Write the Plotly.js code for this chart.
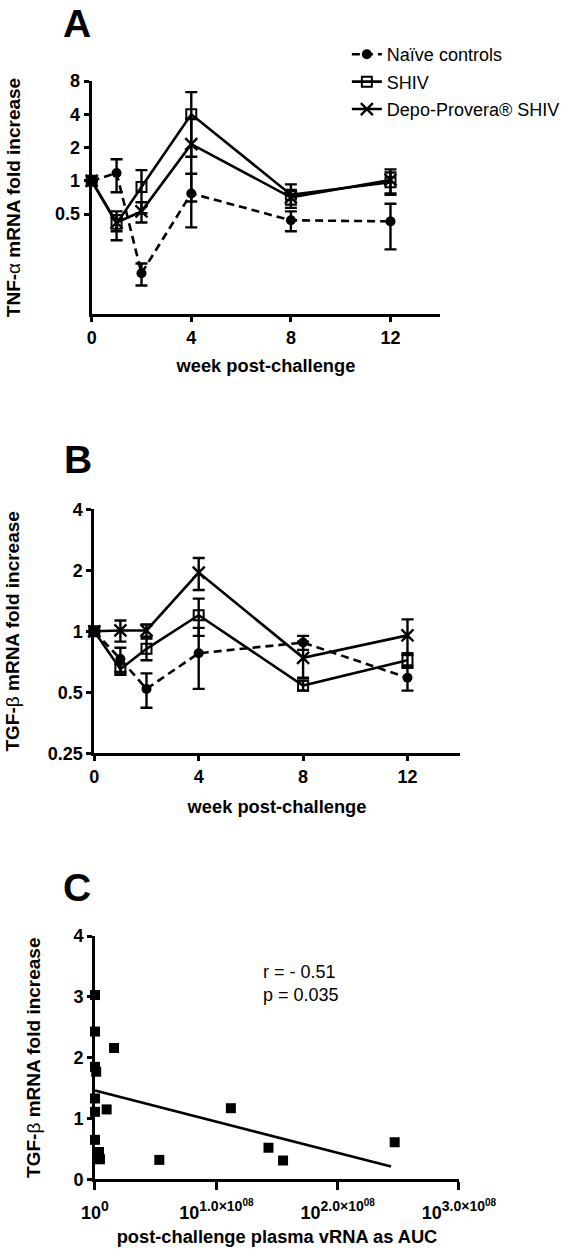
<!DOCTYPE html>
<html>
<head>
<meta charset="utf-8">
<script src="https://cdn.plot.ly/plotly-3.0.1.min.js"></script>
<style>html,body{margin:0;padding:0;background:#fff;}#chart{width:581px;height:1260px;}</style>
</head>
<body>
<div id="chart"></div>
<script>
// ---- Data ----
const weeks = [0, 1, 2, 4, 8, 12];
const seriesNames = ['Naïve controls', 'SHIV', 'Depo-Provera® SHIV'];

// Panel A: TNF-alpha mRNA fold increase (mean, SEM)
const naiveA = [1, 1.18, 0.146, 0.77, 0.44, 0.43];
const naiveA_sem = [0, 0.39, 0.033, 0.39, 0.09, 0.19];
const shivA = [1, 0.41, 0.88, 4.0, 0.75, 0.97];
const shivA_sem = [0, 0.12, 0.37, 2.35, 0.18, 0.22];
const depoA = [1, 0.42, 0.53, 2.15, 0.71, 1.02];
const depoA_sem = [0, 0.07, 0.11, 1.5, 0.1, 0.25];

// Panel B: TGF-beta mRNA fold increase (mean, SEM)
const naiveB = [1, 0.73, 0.52, 0.78, 0.88, 0.59];
const naiveB_sem = [0, 0.1, 0.1, 0.26, 0.07, 0.08];
const shivB = [1, 0.65, 0.82, 1.2, 0.54, 0.72];
const shivB_sem = [0, 0.04, 0.1, 0.25, 0.03, 0.06];
const depoB = [1, 1.01, 1.01, 1.95, 0.74, 0.955];
const depoB_sem = [0, 0.12, 0.07, 0.35, 0.15, 0.19];

// Panel C: TGF-beta vs post-challenge plasma vRNA AUC
const aucX = [0, 0, 0, 0.01e8, 0, 0, 0, 0.033e8, 0.041e8, 0.157e8, 0.096e8, 0.53e8, 1.12e8, 1.43e8, 1.55e8, 2.47e8];
const tgfY = [3.03, 2.43, 1.85, 1.77, 1.33, 1.11, 0.65, 0.45, 0.33, 2.16, 1.15, 0.32, 1.17, 0.52, 0.31, 0.61];
const fitX = [0, 2.44e8];
const fitY = [1.46, 0.21];

const tickA = [0.5, 1, 2, 4, 8];
const tickB = [0.25, 0.5, 1, 2, 4];
const tickC = [0, 1, 2, 3, 4];
const weekTicks = [0, 4, 8, 12];
const aucTicks = [0, 1e8, 2e8, 3e8];
const aucExp = ['0', '1.0×10', '2.0×10', '3.0×10'];
const aucExp2 = ['', '08', '08', '08'];

// ---- Styles ----
const FONT = '"Liberation Sans", Arial, Helvetica, sans-serif';
const K = '#000';
const styles = [
  {marker: {symbol: 'circle', size: 10, color: K, line: {width: 0}}, line: {color: K, width: 2.6, dash: '8px,5px'}},
  {marker: {symbol: 'square-open', size: 10, color: K, line: {width: 2, color: K}}, line: {color: K, width: 2.6}},
  {marker: {symbol: 'x-thin-open', size: 12, color: K, line: {width: 2.4, color: K}}, line: {color: K, width: 2.6}}
];

function seriesTrace(i, y, sem, xa, ya, showleg) {
  return {
    type: 'scatter', mode: 'lines+markers',
    x: weeks, y: y, name: seriesNames[i],
    xaxis: xa, yaxis: ya, showlegend: showleg, legendgroup: 'g' + i,
    marker: styles[i].marker, line: styles[i].line,
    error_y: {type: 'data', array: sem, arrayminus: sem, visible: true, color: K, thickness: 2.4, width: 6},
    cliponaxis: false
  };
}

const traces = [
  seriesTrace(0, naiveA, naiveA_sem, 'x', 'y', true),
  seriesTrace(1, shivA, shivA_sem, 'x', 'y', true),
  seriesTrace(2, depoA, depoA_sem, 'x', 'y', true),
  seriesTrace(0, naiveB, naiveB_sem, 'x2', 'y2', false),
  seriesTrace(1, shivB, shivB_sem, 'x2', 'y2', false),
  seriesTrace(2, depoB, depoB_sem, 'x2', 'y2', false),
  {type: 'scatter', mode: 'markers', x: aucX, y: tgfY, xaxis: 'x3', yaxis: 'y3', showlegend: false,
   marker: {symbol: 'square', size: 10, color: K}, cliponaxis: false},
  {type: 'scatter', mode: 'lines', x: fitX, y: fitY, xaxis: 'x3', yaxis: 'y3', showlegend: false,
   line: {color: K, width: 2.6}, cliponaxis: false}
];

const aucTickText = aucExp.map((e, i) =>
  '10<sup><span style="font-size:14px">' + e + '</span>' +
  (aucExp2[i] ? '<sup><span style="font-size:10px">' + aucExp2[i] + '</span></sup>' : '') + '</sup>');

const tickFont = {family: FONT, size: 18, color: K, weight: 'bold'};
const xTitleFont = {family: FONT, size: 18.3, color: K, weight: 'bold'};
const yTitleFont = {family: FONT, size: 19, color: K, weight: 'bold'};
function baseAxis(extra) {
  return Object.assign({
    showgrid: false, zeroline: false, showline: true, linecolor: K, linewidth: 3,
    ticks: 'outside', ticklen: 5, tickwidth: 3, tickcolor: K, tickfont: tickFont,
    tickmode: 'array', automargin: false, fixedrange: true
  }, extra);
}

const lg = Math.log10;
const layout = {
  width: 581, height: 1260,
  margin: {l: 0, r: 0, t: 0, b: 0},
  paper_bgcolor: '#fff', plot_bgcolor: '#fff',
  font: {family: FONT, color: K},
  showlegend: true,
  legend: {x: 0.597, y: 0.9714, xanchor: 'left', yanchor: 'top', font: {family: FONT, size: 18, color: K},
           bgcolor: 'rgba(0,0,0,0)', borderwidth: 0, tracegroupgap: 1, itemwidth: 30},
  xaxis: baseAxis({domain: [0.1578, 0.7578], anchor: 'y', range: [0, 14], tickvals: weekTicks,
    title: {text: 'week post-challenge', font: xTitleFont, standoff: 13}}),
  yaxis: baseAxis({domain: [0.7508, 0.9357], anchor: 'x', type: 'log', range: [lg(0.0625), lg(8)],
    tickvals: tickA, ticktext: tickA.map(String),
    title: {text: 'TNF-<span style="font-weight:normal">α</span> mRNA fold increase', font: yTitleFont, standoff: 30}}),
  xaxis2: baseAxis({domain: [0.1623, 0.7912], anchor: 'y2', range: [0, 14], tickvals: weekTicks,
    title: {text: 'week post-challenge', font: xTitleFont, standoff: 15}}),
  yaxis2: baseAxis({domain: [0.4021, 0.5958], anchor: 'x2', type: 'log', range: [lg(0.25), lg(4)],
    tickvals: tickB, ticktext: tickB.map(String),
    title: {text: 'TGF-<span style="font-weight:normal">β</span> mRNA fold increase', font: yTitleFont, standoff: 23}}),
  xaxis3: baseAxis({domain: [0.1635, 0.7900], anchor: 'y3', range: [0, 3e8], tickvals: aucTicks, ticktext: aucTickText,
    ticklen: 8, ticklabelstandoff: 7,
    title: {text: 'post-challenge plasma vRNA as AUC', font: xTitleFont, standoff: 9}}),
  yaxis3: baseAxis({domain: [0.0640, 0.2571], anchor: 'x3', range: [0, 4], tickvals: tickC, ticktext: tickC.map(String),
    title: {text: 'TGF-<span style="font-weight:normal">β</span> mRNA fold increase', font: yTitleFont, standoff: 28}}),
  annotations: [
    {text: 'A', xref: 'paper', yref: 'paper', x: 77 / 581, y: 1, xanchor: 'center', yanchor: 'top',
     showarrow: false, font: {family: FONT, size: 39, color: K, weight: 'bold'}},
    {text: 'B', xref: 'paper', yref: 'paper', x: 78 / 581, y: 1 - 459 / 1260, xanchor: 'center', yanchor: 'middle',
     showarrow: false, font: {family: FONT, size: 39, color: K, weight: 'bold'}},
    {text: 'C', xref: 'paper', yref: 'paper', x: 77 / 581, y: 1 - 887 / 1260, xanchor: 'center', yanchor: 'middle',
     showarrow: false, font: {family: FONT, size: 39, color: K, weight: 'bold'}},
    {text: 'r = - 0.51<br>p = 0.035', xref: 'paper', yref: 'paper', x: 261 / 581, y: 1 - 960 / 1260,
     xanchor: 'left', yanchor: 'top', align: 'left', showarrow: false, font: {family: FONT, size: 18, color: K}}
  ]
};

Plotly.newPlot('chart', traces, layout, {displayModeBar: false, staticPlot: true});
</script>
</body>
</html>
